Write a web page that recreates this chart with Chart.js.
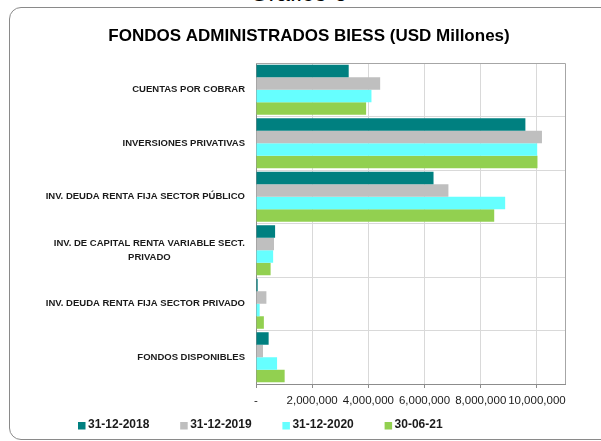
<!DOCTYPE html>
<html><head><meta charset="utf-8">
<script src="https://cdn.jsdelivr.net/npm/chart.js@4/dist/chart.umd.min.js"></script>
<style>
html,body{margin:0;padding:0;background:#fff;overflow:hidden;}
#wrap{position:relative;width:601px;height:441px;overflow:hidden;}
#frame{position:absolute;left:9px;top:7px;width:640px;height:433px;border:1px solid #8a8a8a;border-radius:12px;box-sizing:border-box;}
#cap{position:absolute;left:0;width:597px;top:-19px;text-align:center;font:24px 'Liberation Sans',Arial,sans-serif;line-height:24px;color:#000;}
canvas{position:absolute;left:0;top:0;}
</style></head>
<body><div id="wrap"><div id="frame"></div><div id="cap">Gráfico 6</div><canvas id="c" width="601" height="441"></canvas></div>
<script>
const chartTitle = 'FONDOS ADMINISTRADOS BIESS (USD Millones)';
const categories = [
  'CUENTAS POR COBRAR',
  'INVERSIONES PRIVATIVAS',
  'INV. DEUDA RENTA FIJA SECTOR PÚBLICO',
  ['INV. DE CAPITAL RENTA VARIABLE SECT.', 'PRIVADO'],
  'INV. DEUDA RENTA FIJA SECTOR PRIVADO',
  'FONDOS DISPONIBLES'
];
const seriesNames = ['31-12-2018', '31-12-2019', '31-12-2020', '30-06-21'];
const s2018 = [3300000, 9590000, 6320000, 680000, 60000, 450000];
const s2019 = [4420000, 10180000, 6850000, 640000, 370000, 250000];
const s2020 = [4110000, 10010000, 8870000, 610000, 130000, 750000];
const s2021 = [3920000, 10020000, 8480000, 520000, 280000, 1020000];
const xTicks = [0, 2000000, 4000000, 6000000, 8000000, 10000000];
const xMin = 0;
const xMax = 11000000;
const seriesColors = ['#008080', '#BFBFBF', '#66FFFF', '#92D050'];

Chart.defaults.font.family = "'Liberation Sans', Arial, sans-serif";
Chart.defaults.color = '#1a1a1a';

const yLabelPlugin = {
  id: 'yLabels',
  afterDraw(chart) {
    const ctx = chart.ctx, ys = chart.scales.y;
    ctx.save();
    ctx.font = "bold 9.5px 'Liberation Sans', Arial, sans-serif";
    ctx.fillStyle = '#1a1a1a';
    ctx.textBaseline = 'middle';
    ctx.textAlign = 'center';
    const right = chart.chartArea.left - 11;
    const lh = 13.3;
    chart.data.labels.forEach((lab, i) => {
      const lines = Array.isArray(lab) ? lab : [lab];
      const w = Math.max(...lines.map(l => ctx.measureText(l).width));
      const cx = right - w / 2;
      const cy = ys.getPixelForValue(i);
      lines.forEach((l, k) => ctx.fillText(l, cx, cy + (k - (lines.length - 1) / 2) * lh));
    });
    ctx.restore();
  }
};

const borderPlugin = {
  id: 'plotBorder',
  afterDatasetsDraw(chart) {
    const {ctx, chartArea: a} = chart;
    ctx.save();
    ctx.strokeStyle = '#a6a6a6';
    ctx.lineWidth = 1;
    ctx.beginPath();
    ctx.moveTo(a.left, a.top + 0.5);
    ctx.lineTo(a.right + 0.5, a.top + 0.5);
    ctx.lineTo(a.right + 0.5, a.bottom);
    ctx.stroke();
    ctx.restore();
  }
};

const legendPlugin = {
  id: 'customLegend',
  afterDraw(chart) {
    const ctx = chart.ctx;
    ctx.save();
    ctx.font = "bold 12px 'Liberation Sans', Arial, sans-serif";
    ctx.textBaseline = 'middle';
    ctx.textAlign = 'left';
    chart.data.datasets.forEach((ds, i) => {
      const x = 78 + i * 102.2;
      ctx.fillStyle = ds.backgroundColor;
      ctx.fillRect(x, 422, 7.5, 7.5);
      ctx.fillStyle = '#1a1a1a';
      ctx.fillText(ds.label, x + 10, 425);
    });
    ctx.restore();
  }
};

const seriesData = [s2018, s2019, s2020, s2021];
new Chart(document.getElementById('c'), {
  type: 'bar',
  data: {
    labels: categories,
    datasets: seriesNames.map((n, i) => ({
      label: n,
      data: seriesData[i],
      backgroundColor: seriesColors[i],
      borderWidth: 0,
      categoryPercentage: 0.935,
      barPercentage: 1.0
    }))
  },
  options: {
    indexAxis: 'y',
    responsive: false,
    animation: false,
    layout: {padding: {left: 53, right: 36, top: 0, bottom: 27}},
    plugins: {
      legend: {display: false},
      tooltip: {enabled: false},
      title: {
        display: true,
        text: chartTitle,
        color: '#000',
        font: {size: 17, weight: 'bold'},
        padding: {top: 26, bottom: 16.6}
      }
    },
    scales: {
      x: {
        type: 'linear',
        min: xMin,
        max: xMax,
        afterFit(scale) { scale.height = 30; },
        afterBuildTicks(scale) { scale.ticks = xTicks.map(v => ({value: v})); },
        grid: {color: '#d9d9d9', tickColor: '#8c8c8c', tickLength: 4},
        border: {color: '#8c8c8c'},
        ticks: {
          autoSkip: false,
          maxRotation: 0,
          minRotation: 0,
          padding: 6,
          color: '#1a1a1a',
          font: {size: 11.5},
          callback: v => v === 0 ? '-' : v.toLocaleString('en-US')
        }
      },
      y: {
        afterFit(scale) { scale.width = 203; },
        grid: {color: '#d9d9d9', drawTicks: false, offset: true},
        border: {color: '#8c8c8c'},
        ticks: {display: false}
      }
    }
  },
  plugins: [yLabelPlugin, borderPlugin, legendPlugin]
});
</script>
</body></html>
